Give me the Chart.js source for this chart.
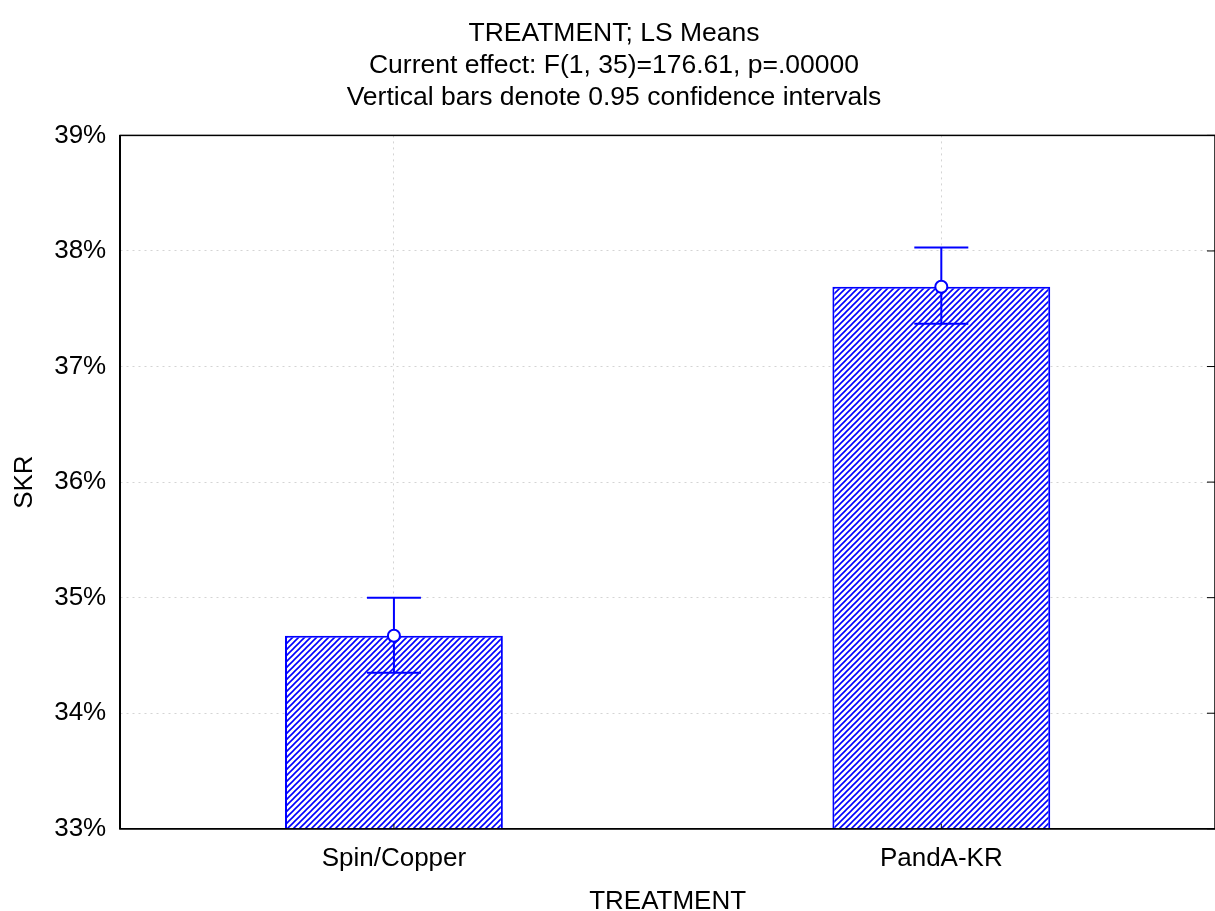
<!DOCTYPE html>
<html>
<head>
<meta charset="utf-8">
<script src="https://cdn.jsdelivr.net/npm/chart.js@4"></script>
<style>
  body { margin: 0; background: #fff; }
  canvas { display: block; }
</style>
</head>
<body>
<canvas id="chart" width="1215" height="911"></canvas>
<script>
const categories = ["Spin/Copper", "PandA-KR"];
const means = [34.67, 37.69];
const lower = [34.35, 37.37];
const upper = [35.00, 38.03];
const titleLines = [
  "TREATMENT; LS Means",
  "Current effect: F(1, 35)=176.61, p=.00000",
  "Vertical bars denote 0.95 confidence intervals"
];

const BLUE = "#0000ff";
const FONT = "'Liberation Sans', Arial, sans-serif";

// diagonal hatch
function hatch() {
  const c = document.createElement("canvas");
  c.width = 6; c.height = 6;
  const g = c.getContext("2d");
  g.fillStyle = "#fff";
  g.fillRect(0, 0, 6, 6);
  g.strokeStyle = BLUE;
  g.lineWidth = 1.6;
  g.beginPath();
  g.moveTo(-1, 7); g.lineTo(7, -1);
  g.moveTo(-4, 4); g.lineTo(4, -4);
  g.moveTo(2, 10); g.lineTo(10, 2);
  g.stroke();
  return g.createPattern(c, "repeat");
}

/* error bars + frame */
const extras = {
  id: "extras",
  afterDatasetsDraw(ch) {
    const ctx = ch.ctx, x = ch.scales.x, y = ch.scales.y, a = ch.chartArea;
    ctx.save();
    ctx.strokeStyle = BLUE;
    ctx.lineWidth = 2;
    means.forEach((m, i) => {
      const cx = x.getPixelForValue(i);
      const yt = y.getPixelForValue(upper[i]);
      const yb = y.getPixelForValue(lower[i]);
      ctx.beginPath();
      ctx.moveTo(cx, yt); ctx.lineTo(cx, yb);
      ctx.moveTo(cx - 27, yt); ctx.lineTo(cx + 27, yt);
      ctx.moveTo(cx - 27, yb); ctx.lineTo(cx + 27, yb);
      ctx.stroke();
      ctx.beginPath();
      ctx.arc(cx, y.getPixelForValue(m), 6, 0, Math.PI * 2);
      ctx.fillStyle = "#fff";
      ctx.fill();
      ctx.stroke();
      // small inner tick at the bottom
      ctx.save();
      ctx.strokeStyle = "#000";
      ctx.lineWidth = 1;
      ctx.beginPath();
      ctx.moveTo(cx, a.bottom); ctx.lineTo(cx, a.bottom - 5);
      ctx.stroke();
      ctx.restore();
    });
    ctx.strokeStyle = "#000";
    ctx.lineWidth = 1.5;
    ctx.strokeRect(a.left, a.top, a.right - a.left, a.bottom - a.top);
    ctx.lineWidth = 1;
    y.ticks.forEach(t => {
      const py = y.getPixelForValue(t.value);
      ctx.beginPath();
      ctx.moveTo(a.right, py); ctx.lineTo(a.right - 8, py);
      ctx.stroke();
    });
    ctx.restore();
  }
};

new Chart(document.getElementById("chart"), {
  type: "bar",
  data: {
    labels: categories,
    datasets: [{
      data: means,
      backgroundColor: hatch(),
      borderColor: BLUE,
      borderWidth: 2,
      borderSkipped: false,
      categoryPercentage: 1,
      barPercentage: 0.398
    }]
  },
  options: {
    responsive: false,
    animation: false,
    devicePixelRatio: 1,
    layout: { padding: { top: 5, right: -4, left: 9, bottom: -4 } },
    plugins: {
      legend: { display: false },
      tooltip: { enabled: false },
      title: {
        display: true,
        text: titleLines,
        color: "#000",
        font: { family: FONT, size: 26.5, weight: "normal", lineHeight: 1.2 },
        padding: { top: 13, bottom: 22 }
      }
    },
    scales: {
      x: {
        grid: { color: "#d4d4d4", drawTicks: false, offset: false },
        border: { color: "#000", width: 1.5, dash: [2, 4] },
        ticks: { color: "#000", font: { family: FONT, size: 26 }, padding: 14 },
        title: { display: true, text: "TREATMENT", color: "#000", font: { family: FONT, size: 26, lineHeight: 1 }, padding: { top: 1, bottom: 0 } }
      },
      y: {
        min: 33,
        max: 39,
        grid: { color: "#d4d4d4", drawTicks: false },
        border: { color: "#000", width: 1.5, dash: [2, 4] },
        ticks: { stepSize: 1, color: "#000", font: { family: FONT, size: 26 }, padding: 14, callback: v => v + "%" },
        title: { display: true, text: "SKR", color: "#000", font: { family: FONT, size: 26 }, padding: { top: 0, bottom: 0 } }
      }
    }
  },
  plugins: [extras]
});
</script>
</body>
</html>
